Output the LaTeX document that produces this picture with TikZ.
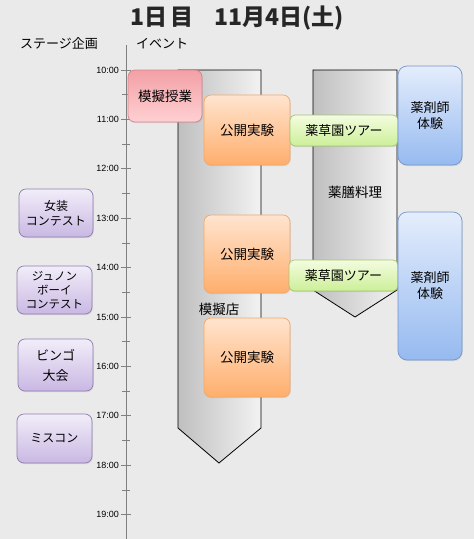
\documentclass[tikz,border=0pt]{standalone}
\usepackage{fontspec}
\setmainfont{Liberation Sans}
\newfontfamily\jp{Noto Sans CJK JP}
\usetikzlibrary{calc,positioning,shadows}

\definecolor{bgc}{HTML}{EAEAEA}
\definecolor{pinktop}{HTML}{F2A0A6}
\definecolor{pinkbot}{HTML}{FFD0D2}
\definecolor{pinkline}{HTML}{D4848A}
\definecolor{orgtop}{HTML}{FFE4CF}
\definecolor{orgbot}{HTML}{FFAE6C}
\definecolor{orgline}{HTML}{F2A868}
\definecolor{grntop}{HTML}{F3FCE0}
\definecolor{grnbot}{HTML}{CDEF98}
\definecolor{grnline}{HTML}{A6C46E}
\definecolor{blutop}{HTML}{E4EDFC}
\definecolor{blubot}{HTML}{96BAF0}
\definecolor{bluline}{HTML}{7495C8}
\definecolor{purtop}{HTML}{F2EDF9}
\definecolor{purbot}{HTML}{C9B8E3}
\definecolor{purline}{HTML}{8F7DAE}

\begin{document}
\begin{tikzpicture}[x=1pt,y=-1pt]

  \tikzstyle{every node}=[font=\jp\fontsize{13}{16}\selectfont,align=center,inner sep=0pt]
  \tikzstyle{evbox}=[draw,line width=0.7pt,rounded corners=7pt,drop shadow={opacity=0.18,shadow xshift=0.8pt,shadow yshift=-1.2pt}]
  \tikzstyle{pinkbox}=[evbox,draw=pinkline,top color=pinktop,bottom color=pinkbot]
  \tikzstyle{orangebox}=[evbox,draw=orgline,top color=orgtop,bottom color=orgbot]
  \tikzstyle{greenbox}=[evbox,draw=grnline,top color=grntop,bottom color=grnbot]
  \tikzstyle{bluebox}=[evbox,draw=bluline,top color=blutop,bottom color=blubot]
  \tikzstyle{stagebox}=[evbox,draw=purline,top color=purtop,bottom color=purbot,font=\jp\fontsize{12}{15}\selectfont]
  \tikzstyle{shop}=[draw=black,line width=0.8pt,left color=black!25,right color=black!5]
  \tikzstyle{axis}=[draw=black!50,line width=0.8pt]
  \tikzstyle{timelbl}=[font=\fontsize{9}{10}\selectfont,anchor=east]

  \useasboundingbox[fill=bgc] (0,0) rectangle (474,539);

  % title and column heads
  \node[font=\jp\bfseries\fontsize{23}{25}\selectfont,text=black!85](title) at (237,18){1日\,目\hspace{0.9em}11月4日(土)};
  \node(stagehead) at (59,44){ステージ企画};
  \node(eventhead) at (162,44){イベント};

  % time axis
  \draw[axis](126,45)--(126,539);
  \foreach \h [count=\i from 0] in {10,...,19}{
    \pgfmathsetmacro\yy{70+49.4*\i}
    \pgfmathsetmacro\yh{\yy+24.7}
    \draw[axis](121,\yy)--(131,\yy);
    \draw[axis](122,\yh)--(130,\yh);
    \node[timelbl](t\h) at (119,\yy){\h:00};
  }

  % long running events
  \path[shop](178,70)--(261,70)--(261,428)--(219,463)--(178,428)--cycle;
  \path[shop](313,70)--(397,70)--(397,290)--(355,317)--(313,290)--cycle;
  \node[font=\jp\fontsize{13.5}{16}\selectfont](shoplbl) at (219,309){模擬店};
  \node[font=\jp\fontsize{13.5}{16}\selectfont](cooklbl) at (355,192){薬膳料理};

  % events
  \node[pinkbox,minimum width=74pt,minimum height=52pt,font=\jp\fontsize{13.5}{16}\selectfont](lecture) at (165,96){模擬授業};
  \node[orangebox,minimum width=86pt,minimum height=70pt,font=\jp\fontsize{13.5}{16}\selectfont](exp1) at (247,130){公開実験};
  \node[orangebox,minimum width=86pt,minimum height=78pt,font=\jp\fontsize{13.5}{16}\selectfont](exp2) at (247,254){公開実験};
  \node[orangebox,minimum width=86pt,minimum height=79pt,font=\jp\fontsize{13.5}{16}\selectfont](exp3) at (247,357.5){公開実験};
  \node[greenbox,minimum width=108pt,minimum height=31pt,rounded corners=5pt](tour1) at (344,130.5){薬草園ツアー};
  \node[greenbox,minimum width=109pt,minimum height=31pt,rounded corners=5pt](tour2) at (343.5,275.5){薬草園ツアー};
  \node[bluebox,minimum width=64pt,minimum height=99pt,rounded corners=9pt](pharm1) at (430,115.5){薬剤師\\体験};
  \node[bluebox,minimum width=64pt,minimum height=148pt,rounded corners=9pt](pharm2) at (430,286){薬剤師\\体験};

  % stage
  \node[stagebox,minimum width=74pt,minimum height=48pt](josou) at (56,213){女装\\コンテスト};
  \node[stagebox,minimum width=75pt,minimum height=48pt,font=\jp\fontsize{11.5}{14}\selectfont](junon) at (54.5,290){ジュノン\\ボーイ\\コンテスト};
  \node[stagebox,minimum width=75pt,minimum height=52pt,font=\jp\fontsize{13}{20}\selectfont](bingo) at (55.5,365){ビンゴ\\大会};
  \node[stagebox,minimum width=75pt,minimum height=49pt](miss) at (54.5,438.5){ミスコン};

\end{tikzpicture}
\end{document}
